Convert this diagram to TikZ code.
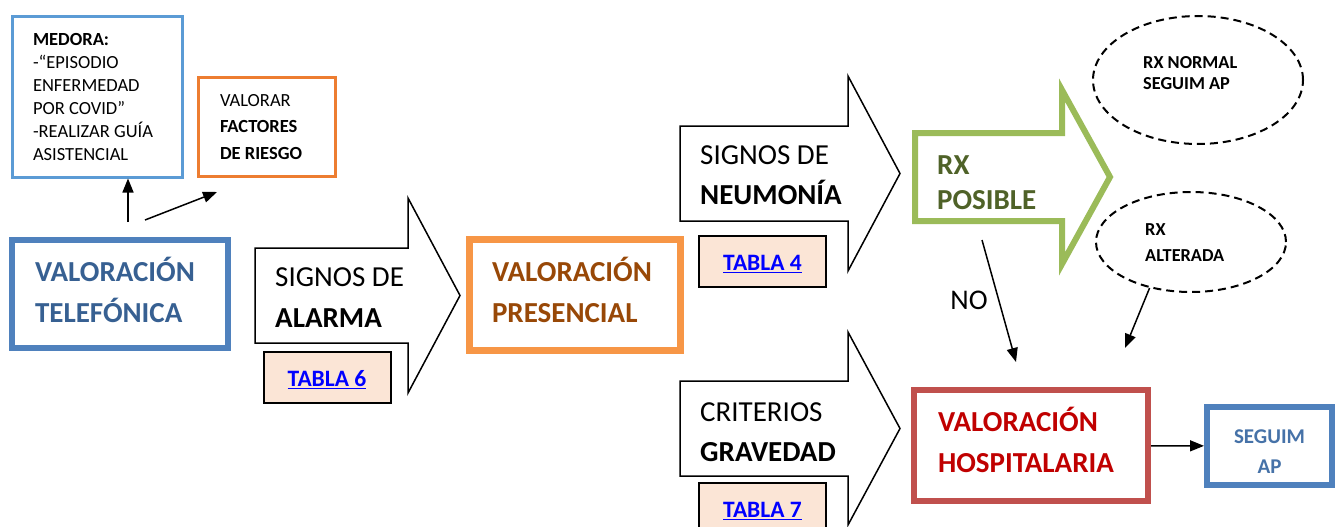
\documentclass[tikz,border=0pt]{standalone}
\usepackage{fontspec}
\setmainfont{Carlito}
\usetikzlibrary{arrows.meta,shapes.geometric}
\newcommand{\subrayado}[1]{\leavevmode\rule{0pt}{21pt}\setbox0\hbox{#1}\rlap{\rule[-2.5pt]{\wd0}{1.6pt}}\box0}

\begin{document}
\begin{tikzpicture}[x=1pt,y=-1pt,
    marco/.style={draw=#1, rectangle, inner sep=0pt, align=flush left},
    grande/.style={font=\fontsize{29}{41}\selectfont\bfseries},
    rotulo/.style={anchor=west, align=flush left, inner sep=0pt},
    flecha/.style={draw, line width=1.5pt, line join=miter},
    conector/.style={-{Triangle[length=14pt,width=11pt]}, line width=1.5pt},
    tabla/.style={draw=black, line width=2pt, fill=tab_fill, minimum width=127pt, minimum height=51pt, inner sep=0pt, font=\fontsize{23.5}{28}\selectfont\bfseries, text=tab_link},
    ovalo/.style={ellipse, draw, dash pattern=on 8pt off 5pt, line width=2pt}]
    \definecolor{med_blue}{HTML}{5B9BD5}
    \definecolor{fac_orange}{HTML}{ED7D31}
    \definecolor{tel_blue}{HTML}{4F81BD}
    \definecolor{tel_text}{HTML}{376092}
    \definecolor{pres_orange}{HTML}{F79646}
    \definecolor{pres_text}{HTML}{984807}
    \definecolor{rx_green}{HTML}{9BBB59}
    \definecolor{rx_text}{HTML}{4F6228}
    \definecolor{hosp_red}{HTML}{C0504D}
    \definecolor{hosp_text}{HTML}{C00000}
    \definecolor{seg_text}{HTML}{4672A8}
    \definecolor{tab_fill}{HTML}{FBE5D6}
    \definecolor{tab_link}{HTML}{0000FF}
    \clip (0,0) rectangle (1339,527);
    \fill[white] (0,0) rectangle (1339,527);
    %\draw[help lines] (0,0) grid[step=50] (1339,527);

    \node[marco=med_blue, line width=3pt, minimum width=170pt, minimum height=160pt, text width=128pt, font=\fontsize{18.5}{23}\selectfont] (medora) at (97,97)
        {\textbf{MEDORA:}\\-“EPISODIO\\ENFERMEDAD\\POR COVID”\\-REALIZAR GUÍA\\ASISTENCIAL};
    \node[marco=fac_orange, line width=3pt, minimum width=137pt, minimum height=99pt, text width=93pt, font=\fontsize{18.5}{26.5}\selectfont] (factores) at (266.5,127)
        {VALORAR\\\textbf{FACTORES}\\\textbf{DE RIESGO}};
    \node[marco=tel_blue, grande, text=tel_text, line width=6pt, minimum width=216pt, minimum height=108pt, text width=170pt] (telefonica) at (120,294)
        {VALORACIÓN\\TELEFÓNICA\rule[-8pt]{0pt}{0pt}};

    \coordinate (telA) at (128,222);
    \coordinate (telB) at (145,220);
    \coordinate (facFin) at (217,192);
    \draw[conector] (telA) -- (telA |- medora.south);
    \draw[conector] (telB) -- (facFin);

    % signos de alarma
    \draw[flecha] (255,248) -- (408,248) -- (408,198) -- (460,295.5) -- (408,393) -- (408,343) -- (255,343) -- cycle;
    \node[rotulo, font=\fontsize{29}{41}\selectfont] (alarma) at (275,298) {SIGNOS DE\\\textbf{ALARMA}};
    \node[tabla] (tabla6) at (327,377.5) {\subrayado{TABLA 6}};

    \node[marco=pres_orange, grande, text=pres_text, line width=7pt, minimum width=211pt, minimum height=111pt, text width=166pt] (presencial) at (575,295)
        {VALORACIÓN\\PRESENCIAL\rule[-11pt]{0pt}{0pt}};

    % signos de neumonia
    \draw[flecha] (680,126) -- (848,126) -- (848,76) -- (900,173.5) -- (848,271) -- (848,221) -- (680,221) -- cycle;
    \node[rotulo, font=\fontsize{29}{40}\selectfont] (neumonia) at (700,175) {SIGNOS DE\\\textbf{NEUMONÍA}};
    \node[tabla] (tabla4) at (762.5,261.5) {\subrayado{TABLA 4}};

    % criterios gravedad
    \draw[flecha] (680,381) -- (848,381) -- (848,332) -- (900,428.5) -- (848,525) -- (848,476) -- (680,476) -- cycle;
    \node[rotulo, font=\fontsize{29}{40}\selectfont] (gravedad) at (700,432) {CRITERIOS\\\textbf{GRAVEDAD}};
    \node[tabla] (tabla7) at (762.5,508.5) {\subrayado{TABLA 7}};

    % rx posible
    \draw[flecha, draw=rx_green, line width=6pt] (915,133) -- (1062,133) -- (1062,90) -- (1110,177) -- (1062,264) -- (1062,221) -- (915,221) -- cycle;
    \node[rotulo, text=rx_text, font=\fontsize{29}{35}\selectfont\bfseries] (posible) at (937,183) {RX\\POSIBLE};

    \node[ovalo, minimum width=210pt, minimum height=128pt] (rxnormal) at (1198,80) {};
    \node[rotulo, font=\fontsize{18.3}{21}\selectfont\bfseries] (rxnormaltxt) at (1143,73) {RX NORMAL\\SEGUIM AP};
    \node[ovalo, minimum width=190pt, minimum height=100pt] (rxalterada) at (1191,242) {};
    \node[rotulo, font=\fontsize{18.3}{26}\selectfont\bfseries] (rxalteradatxt) at (1145,243) {RX\\ALTERADA};

    \node[inner sep=0pt, font=\fontsize{28.5}{34}\selectfont] (no) at (969,300) {NO};
    \coordinate (noIni) at (982,240);
    \coordinate (noFin) at (1016,362);
    \coordinate (altFin) at (1125,348);
    \draw[conector] (noIni) -- (noFin);
    \draw[conector] (rxalterada.228) -- (altFin);

    \node[marco=hosp_red, grande, text=hosp_text, line width=6pt, minimum width=234pt, minimum height=111pt, text width=186pt] (hospital) at (1031,445.5)
        {VALORACIÓN\\HOSPITALARIA\rule[-12pt]{0pt}{0pt}};
    \node[marco=tel_blue, align=center, text=seg_text, line width=6pt, minimum width=125pt, minimum height=78pt, font=\fontsize{21}{30}\selectfont\bfseries] (seguim) at (1269.5,446)
        {\rule{0pt}{24pt}SEGUIM\\AP};
    \draw[conector] (hospital) -- (seguim);
\end{tikzpicture}
\end{document}
